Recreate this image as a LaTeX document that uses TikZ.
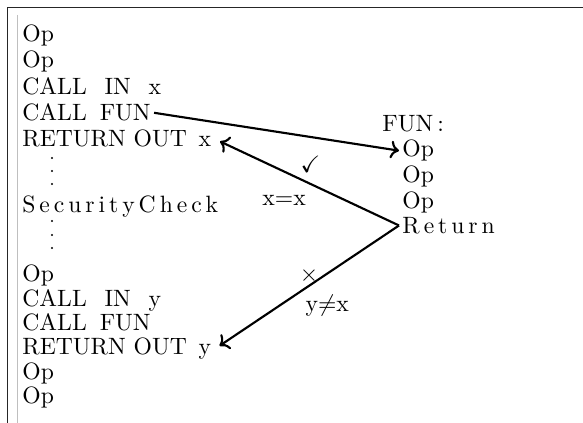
\documentclass[tikz,border=0pt]{standalone}
\usepackage{amssymb}
\usetikzlibrary{arrows.meta, positioning}

\begin{document}
\begin{tikzpicture}[x=0.423pt, y=-0.423pt, line width=0.9pt,
    code/.style={anchor=base west, inner sep=1pt},
    tag/.style={inner sep=1pt}]

    \useasboundingbox (0,0) rectangle (583,423);

    % frame
    \draw[line width=0.75pt, black!85] (7.5,423) -- (7.5,7.5) -- (583,7.5);
    \draw[line width=0.45pt, black!25] (17.5,15) -- (17.5,423);

    % calling code
    \node[code] (op1) at (19,42) {Op};
    \node[code] (op2) at (19,68) {Op};
    \node[code] (callinx) at (19,95) {CALL\hspace{0.75em}IN\hspace{0.75em}x};
    \node[code] (callfunx) at (19,121) {CALL\hspace{0.55em}FUN};
    \node[code] (retx) at (19,147) {RETURN OUT\hspace{0.5em}x};
    \foreach \y in {158,171,184} \fill (52,\y) circle (1.2);
    \node[code] (seccheck) at (19,213) {S\,e\,c\,u\,r\,i\,t\,y\,C\,h\,e\,c\,k};
    \foreach \y in {221,235,248} \fill (52,\y) circle (1.2);
    \node[code] (op3) at (19,282) {Op};
    \node[code] (calliny) at (19,306.5) {CALL\hspace{0.75em}IN\hspace{0.75em}y};
    \node[code] (callfuny) at (19,330) {CALL\hspace{0.55em}FUN};
    \node[code] (rety) at (19,355) {RETURN OUT\hspace{0.5em}y};
    \node[code] (op4) at (19,379) {Op};
    \node[code] (op5) at (19,403) {Op};

    % the function
    \node[code] (fun) at (379,131.7) {FUN\,:};
    \node[code] (fop1) at (399,156.7) {Op};
    \node[code] (fop2) at (399,183) {Op};
    \node[code] (fop3) at (399,208.5) {Op};
    \node[code] (fret) at (399,233.3) {R\,e\,t\,u\,r\,n};

    \draw[->] (callfunx.east) -- (fop1.west);

    \draw[->, shorten >=2.5pt] (fret.west) -- (retx.east)
        node[tag, midway, above=2.5pt, xshift=1.5pt] {$\checkmark$}
        node[tag, midway, below left=4pt and -1pt] {x=x};

    \draw[->, shorten >=2.5pt] (fret.west) -- (rety.east)
        node[tag, midway, above=0pt, xshift=1pt] {$\times$}
        node[tag, midway, below right=2pt and -2pt] {y$\neq$x};

\end{tikzpicture}
\end{document}
